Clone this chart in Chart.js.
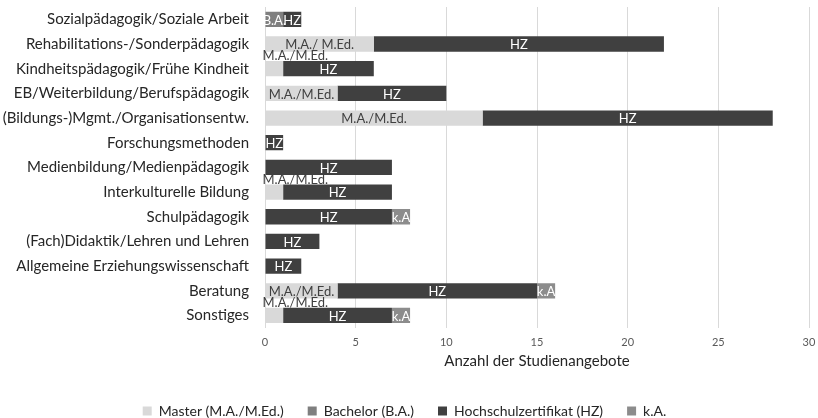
<!DOCTYPE html>
<html lang="de">
<head>
    <meta charset="UTF-8">
    <title>Studienangebote nach Fachrichtung</title>
    <style>
        html, body {
            margin: 0;
            padding: 0;
            background: #ffffff;
        }
        #wrap {
            width: 818px;
            height: 418px;
        }
    </style>
    <script src="https://cdn.jsdelivr.net/npm/chart.js"></script>
</head>
<body>

<div id="wrap"><canvas id="angeboteChart" width="818" height="418"></canvas></div>

<script>
    // Fachrichtungen, von oben nach unten
    const categories = [
        'Sozialpädagogik/Soziale Arbeit',
        'Rehabilitations-/Sonderpädagogik',
        'Kindheitspädagogik/Frühe Kindheit',
        'EB/Weiterbildung/Berufspädagogik',
        '(Bildungs-)Mgmt./Organisationsentw.',
        'Forschungsmethoden',
        'Medienbildung/Medienpädagogik',
        'Interkulturelle Bildung',
        'Schulpädagogik',
        '(Fach)Didaktik/Lehren und Lehren',
        'Allgemeine Erziehungswissenschaft',
        'Beratung',
        'Sonstiges'
    ];

    // Anzahl der Studienangebote je Abschluss
    const master   = [0, 6, 1, 4, 12, 0, 0, 1, 0, 0, 0, 4, 1];
    const bachelor = [1, 0, 0, 0, 0, 0, 0, 0, 0, 0, 0, 0, 0];
    const zertifikat = [1, 16, 5, 6, 16, 1, 7, 6, 7, 3, 2, 11, 6];
    const keineAngabe = [0, 0, 0, 0, 0, 0, 0, 0, 1, 0, 0, 1, 1];

    // Beschriftung in den Balken
    const masterTags = ['M.A./M.Ed.', 'M.A./ M.Ed.', 'M.A./M.Ed.', 'M.A./M.Ed.', 'M.A./M.Ed.', '', '',
        'M.A./M.Ed.', '', '', '', 'M.A./M.Ed.', 'M.A./M.Ed.'];
    const seriesTags = [masterTags, 'B.A.', 'HZ', 'k.A'];

    const xTicks = [0, 5, 10, 15, 20, 25, 30];

    const FONT = 'Lato, "Open Sans", sans-serif';

    // Text in/über den Segmenten zeichnen
    const segmentLabels = {
        id: 'segmentLabels',
        afterDatasetsDraw(chart) {
            const ctx = chart.ctx;
            ctx.save();
            ctx.font = '13px ' + FONT;
            ctx.textBaseline = 'middle';
            chart.data.datasets.forEach((ds, di) => {
                const meta = chart.getDatasetMeta(di);
                meta.data.forEach((bar, i) => {
                    const v = ds.data[i];
                    if (!v) return;
                    const tag = Array.isArray(seriesTags[di]) ? seriesTags[di][i] : seriesTags[di];
                    const w = Math.abs(bar.x - bar.base);
                    const tw = ctx.measureText(tag).width;
                    if (di === 0 && tw > w + 4) {
                        // zu schmal: Text über den Balken
                        ctx.fillStyle = '#404040';
                        ctx.textAlign = 'left';
                        ctx.fillText(tag, bar.base - 3, bar.y - bar.height / 2 - 5);
                    } else {
                        ctx.fillStyle = di === 0 ? '#404040' : '#ffffff';
                        ctx.textAlign = 'center';
                        ctx.fillText(tag, (bar.x + bar.base) / 2, bar.y + 1);
                    }
                });
            });
            ctx.restore();
        }
    };

    const ctx = document.getElementById('angeboteChart').getContext('2d');
    new Chart(ctx, {
        type: 'bar',
        data: {
            labels: categories,
            datasets: [
                { label: 'Master (M.A./M.Ed.)', data: master, backgroundColor: '#d9d9d9' },
                { label: 'Bachelor (B.A.)', data: bachelor, backgroundColor: '#7f7f7f' },
                { label: 'Hochschulzertifikat (HZ)', data: zertifikat, backgroundColor: '#404040' },
                { label: 'k.A.', data: keineAngabe, backgroundColor: '#8c8c8c' }
            ]
        },
        options: {
            indexAxis: 'y',
            responsive: false,
            animation: false,
            datasets: {
                bar: {
                    categoryPercentage: 1,
                    barPercentage: 0.62,
                    borderWidth: 0
                }
            },
            layout: {
                padding: { top: 7, right: 9, left: 0, bottom: 0 }
            },
            scales: {
                x: {
                    stacked: true,
                    min: 0,
                    max: 30,
                    afterBuildTicks(scale) {
                        scale.ticks = xTicks.map(v => ({ value: v }));
                    },
                    afterFit(scale) {
                        scale.paddingLeft = 0;
                        scale.paddingRight = 0;
                    },
                    grid: {
                        color: '#d9d9d9',
                        drawTicks: false
                    },
                    border: { display: false },
                    ticks: {
                        color: '#595959',
                        padding: 8,
                        font: { family: FONT, size: 11 }
                    },
                    title: {
                        display: true,
                        text: 'Anzahl der Studienangebote',
                        color: '#262626',
                        font: { family: FONT, size: 15 },
                        padding: { top: -5, bottom: 10 }
                    }
                },
                y: {
                    stacked: true,
                    afterFit(scale) {
                        scale.width = 265;
                        scale.paddingTop = 0;
                        scale.paddingBottom = 0;
                    },
                    grid: { display: false },
                    border: { display: false },
                    ticks: {
                        color: '#262626',
                        padding: 8,
                        font: { family: FONT, size: 15 }
                    }
                }
            },
            plugins: {
                legend: {
                    position: 'bottom',
                    maxHeight: 38,
                    labels: {
                        color: '#262626',
                        boxWidth: 9,
                        boxHeight: 9,
                        padding: 24,
                        font: { family: FONT, size: 14 }
                    }
                },
                tooltip: { enabled: false }
            }
        },
        plugins: [segmentLabels]
    });
</script>

</body>
</html>
